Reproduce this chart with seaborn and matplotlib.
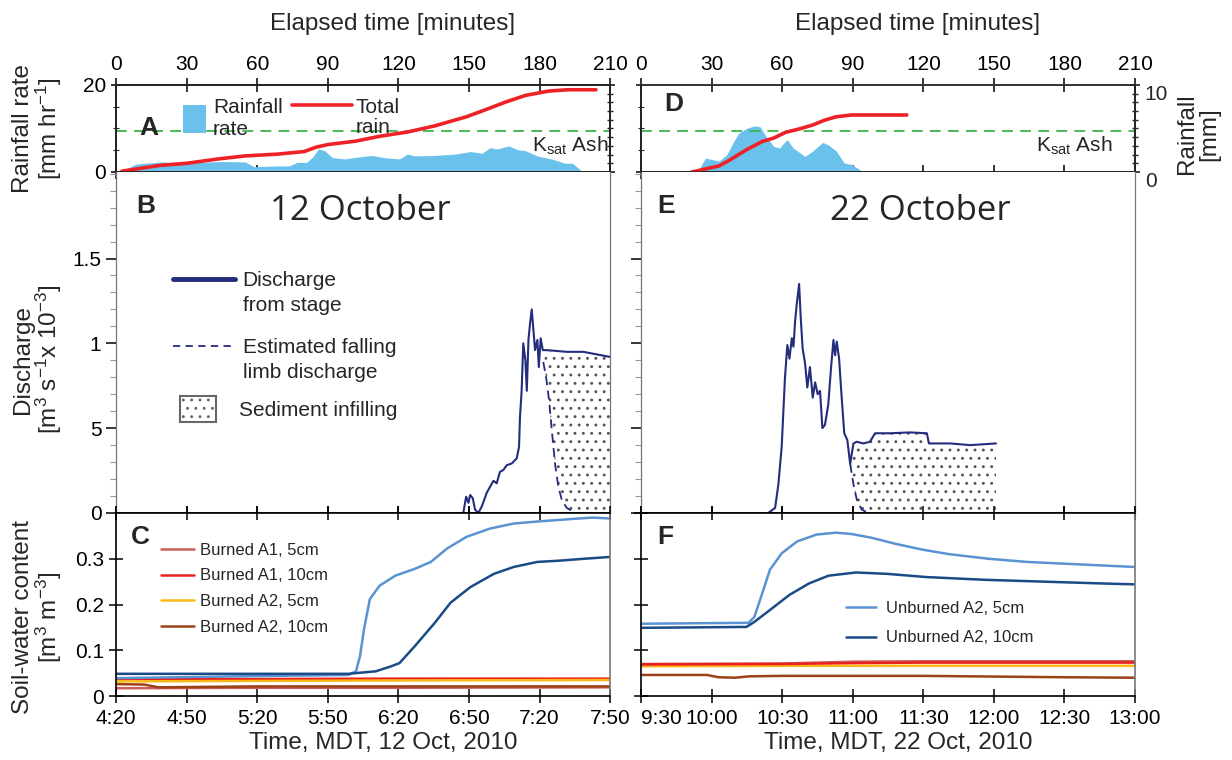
import matplotlib
matplotlib.use("Agg")
import matplotlib.pyplot as plt
from matplotlib.lines import Line2D
from matplotlib.patches import Patch
from matplotlib.ticker import MultipleLocator
import seaborn as sns

# x values are elapsed minutes (0 = 4:20 on 12 Oct, 9:30 on 22 Oct)
elapsed_ticks = [0, 30, 60, 90, 120, 150, 180, 210]
oct12_labels = ['4:20', '4:50', '5:20', '5:50', '6:20', '6:50', '7:20', '7:50']
oct22_labels = ['9:30', '10:00', '10:30', '11:00', '11:30', '12:00', '12:30', '13:00']
ksat_ash = 9.5

# panel A - rainfall rate [mm/hr] and total rain [mm]
rate_a_t = [1.7, 8.4, 11.7, 20, 26.8, 35, 45, 55, 58.6, 68.6, 73.6, 77, 81, 83.7, 86, 88.7, 92, 97,
            103.7, 108.8, 113.8, 120.5, 123.8, 127, 135.5, 144, 150.6, 155.6, 159, 162, 167, 170.7,
            174, 179, 185.7, 190.8, 194, 197.5, 198.5]
rate_a_v = [0, 1.8, 2.0, 2.3, 2.0, 2.2, 2.4, 2.3, 1.2, 1.4, 1.4, 2.2, 2.2, 3.5, 5.3, 4.9, 3.3, 3.0,
            3.5, 3.8, 3.3, 3.0, 4.1, 3.7, 3.8, 4.1, 4.7, 4.3, 5.6, 5.3, 6.0, 5.1,
            4.9, 3.7, 2.9, 2.0, 2.0, 0.4, 0]
total_a_t = [2.5, 10, 18.4, 30, 43.5, 55, 68.6, 80, 85, 90, 102, 112, 124, 135.5, 149, 157, 165.7,
             174, 184, 192, 204]
total_a_mm = [0.1, 0.4, 0.75, 1.0, 1.5, 1.85, 2.05, 2.35, 2.85, 3.15, 3.55, 4.1, 4.6, 5.3, 6.35,
              7.15, 8.05, 8.8, 9.3, 9.45, 9.45]

# panel D
rate_d_t = [24, 27.4, 29.9, 33.2, 36.5, 39, 41.5, 44.8, 48.2, 50.6, 53.1, 56.4, 58.9, 60.6, 62.2,
            64.7, 69.7, 73, 77.2, 79.7, 83, 86.3, 89.6, 94.6]
rate_d_v = [0, 3.2, 2.9, 2.5, 4.0, 6.6, 8.9, 10.0, 10.6, 10.4, 8.2, 5.9, 5.5, 6.6, 7.4,
            5.5, 3.6, 4.8, 6.8, 6.2, 4.8, 2.1, 1.7, 0]
total_d_t = [21.6, 33.2, 38.2, 44.8, 51.5, 56.4, 61.4, 68, 73, 78, 83, 89.6, 113]
total_d_mm = [0, 0.7, 1.45, 2.55, 3.5, 3.9, 4.55, 5.0, 5.4, 5.95, 6.35, 6.55, 6.55]

# panel B - discharge [m3/s x 1e-3]
dis_b_t = [147.6, 148.8, 149.8, 150.5, 151.6, 152.6, 154.0, 155.5, 157.6, 159.0, 160.4, 161.8, 163.2,
           164.6, 166.1, 168.2, 170.3, 171.3, 171.7, 172.4, 173.1, 174.0, 174.6, 175.3, 176.0, 176.7,
           177.4, 178.1, 179.1, 179.7, 180.5, 181.4, 183.1, 191.6, 198.6, 210]
dis_b_q = [0, 0.096, 0.06, 0.106, 0.088, 0.02, 0, 0.04, 0.12, 0.155, 0.19, 0.175, 0.243,
           0.253, 0.282, 0.292, 0.322, 0.39, 0.566, 0.72, 1.0, 0.9, 0.72, 1.02, 1.12, 1.20,
           1.08, 0.96, 1.02, 0.86, 1.03, 0.96, 0.96, 0.95, 0.95, 0.92]
limb_b_t = [181.6, 182.8, 184.1, 185.2, 186.6, 188.0, 189.5, 191.6, 195.1]
limb_b_q = [0.89, 0.80, 0.66, 0.49, 0.29, 0.155, 0.076, 0.03, 0]

# panel E
dis_e_t = [54.1, 57.0, 58.4, 59.8, 61.2, 62.2, 63.1, 64.1, 64.8, 65.5, 66.2, 67.2, 67.9, 68.7, 69.7,
           70.7, 71.8, 73.0, 74.0, 75.1, 76.1, 77.1, 78.2, 79.6, 80.8, 81.8, 82.5, 83.2, 84.2, 85.3,
           86.4, 87.7, 88.9, 90.3, 91.7, 94.5, 97.3, 99.5, 105.8, 114.3, 121.5, 122.4, 131.4, 139.9,
           150.9]
dis_e_q = [0, 0.03, 0.17, 0.39, 0.80, 0.99, 0.91, 1.03, 0.98, 1.13, 1.23, 1.35, 1.15, 0.97, 0.885,
           0.74, 0.86, 0.68, 0.77, 0.70, 0.72, 0.50, 0.52, 0.64, 0.86, 1.02, 0.93, 1.01, 0.91, 0.68,
           0.47, 0.43, 0.29, 0.41, 0.42, 0.41, 0.42, 0.47, 0.47, 0.475, 0.47, 0.41, 0.41, 0.40,
           0.41]
limb_e_t = [88.9, 90.3, 91.7, 93.8, 96.6]
limb_e_q = [0.29, 0.17, 0.08, 0.02, 0]

# panel C - soil-water content, 12 Oct
unb5_c_t = [0, 51.9, 98.7, 102, 103.7, 105.4, 107.9, 112, 118.7, 127, 133.8, 140.6, 149, 159, 169,
            180.7, 194, 202.5, 210]
unb5_c_v = [0.039, 0.043, 0.046, 0.054, 0.087, 0.146, 0.212, 0.241, 0.263, 0.278, 0.293, 0.322,
            0.348, 0.366, 0.377, 0.382, 0.387, 0.390, 0.388]
unb10_c_t = [0, 98.7, 110.4, 117, 120.5, 127, 135.5, 142.2, 150.6, 160.6, 169, 179, 189, 199, 210]
unb10_c_v = [0.0485, 0.0485, 0.054, 0.065, 0.072, 0.109, 0.160, 0.204, 0.238, 0.267, 0.282, 0.293,
             0.296, 0.300, 0.304]
ba1_5_c_t = [0, 60, 120, 210]
ba1_5_c_v = [0.017, 0.018, 0.018, 0.019]
ba1_10_c_t = [0, 60, 120, 210]
ba1_10_c_v = [0.037, 0.037, 0.038, 0.038]
ba2_5_c_t = [0, 60, 120, 210]
ba2_5_c_v = [0.032, 0.033, 0.034, 0.035]
ba2_10_c_t = [0, 12, 18, 60, 120, 210]
ba2_10_c_v = [0.026, 0.025, 0.019, 0.021, 0.021, 0.021]

# panel F - soil-water content, 22 Oct
unb5_f_t = [0, 45.7, 48.2, 51.5, 54.8, 59.8, 66.4, 74.7, 83, 89.6, 97.9, 107.9, 119.5, 131.1, 147.7,
            164.3, 180.9, 197.5, 210]
unb5_f_v = [0.158, 0.160, 0.173, 0.224, 0.276, 0.312, 0.338, 0.353, 0.357, 0.354, 0.346, 0.333,
            0.320, 0.310, 0.300, 0.293, 0.289, 0.285, 0.282]
unb10_f_t = [0, 44.8, 48.2, 54.8, 63.1, 71.4, 79.7, 91.3, 104.6, 121.2, 146.1, 171, 195.9, 210]
unb10_f_v = [0.149, 0.151, 0.162, 0.188, 0.221, 0.246, 0.263, 0.270, 0.267, 0.260, 0.254, 0.250,
             0.246, 0.244]
ba1_5_f_t = [0, 60, 90, 120, 210]
ba1_5_f_v = [0.070, 0.071, 0.075, 0.076, 0.076]
ba1_10_f_t = [0, 60, 90, 120, 210]
ba1_10_f_v = [0.069, 0.070, 0.072, 0.073, 0.073]
ba2_5_f_t = [0, 60, 120, 210]
ba2_5_f_v = [0.065, 0.066, 0.066, 0.066]
ba2_10_f_t = [0, 28, 33, 40, 46, 60, 120, 180, 210]
ba2_10_f_v = [0.046, 0.046, 0.041, 0.040, 0.043, 0.044, 0.044, 0.041, 0.040]

RAIN = '#6ac2ec'
RED = '#ee2226'
GREEN = '#3db54a'
NAVY = '#242c7c'
DOTS = '#555555'
UNB5 = '#5a93d2'
UNB10 = '#1b4b87'
BA1_5 = '#cc5e5a'
BA1_10 = '#e8201f'
BA2_5 = '#fbb918'
BA2_10 = '#9c4116'

sns.set_theme(style="ticks")
plt.rcParams['font.family'] = ['Liberation Sans', 'DejaVu Sans']
plt.rcParams['mathtext.fontset'] = 'custom'
plt.rcParams['mathtext.rm'] = 'Liberation Sans'
plt.rcParams['mathtext.it'] = 'Liberation Sans:italic'
plt.rcParams['mathtext.default'] = 'regular'
plt.rcParams['hatch.color'] = DOTS
plt.rcParams['hatch.linewidth'] = 0.9
plt.rcParams['axes.linewidth'] = 1.2

YT = 15      # y tick labels
XT = 15      # x tick labels
XL = 17.5    # x axis labels
YL = 17.5    # y axis labels
LG = 15      # legend text A/B
fig = plt.figure(figsize=(12.32, 7.6), dpi=100)

cols = [0.0942, 0.5203]
W = 0.401
rows = {'top': (0.7737, 0.1145), 'mid': (0.325, 0.4487), 'bot': (0.0842, 0.2408)}
BLANK = Line2D([], [], alpha=0)


def base(ax):
    ax.set_xlim(0, 210)
    ax.set_xticks(elapsed_ticks)
    for sp in ax.spines.values():
        sp.set_color('black')
    ax.tick_params(colors='black', length=7, width=1.1)
    ax.tick_params(axis='x', labelsize=XT)
    ax.tick_params(axis='y', labelsize=YT)
    ax.tick_params(which='minor', length=4, width=0.8)


def letter(ax, s, x, y):
    ax.text(x, y, s, transform=ax.transAxes, fontsize=19, fontweight='bold',
            ha='center', va='center')


# ---------- rainfall panels ----------
for i, (rt, rv, tt, tv, lab) in enumerate([(rate_a_t, rate_a_v, total_a_t, total_a_mm, 'A'),
                                          (rate_d_t, rate_d_v, total_d_t, total_d_mm, 'D')]):
    ax = fig.add_axes([cols[i], rows['top'][0], W, rows['top'][1]])
    base(ax)
    ax.fill_between(rt, rv, color=RAIN, lw=0)
    ax.axhline(ksat_ash, color=GREEN, ls=(0, (6, 4)), lw=1.3)
    ax.set_ylim(0, 20)
    ax.tick_params(axis='x', top=True, labeltop=True, bottom=True, labelbottom=False,
                   direction='inout', length=10, pad=3)
    ax.set_xlabel('Elapsed time [minutes]', fontsize=XL)
    ax.xaxis.set_label_position('top')
    ax.xaxis.set_label_coords(0.56, 1.7)
    ax.xaxis.label.set_va('center')
    ax.yaxis.set_minor_locator(MultipleLocator(5))
    ax.tick_params(axis='y', which='both', direction='inout')
    ax.set_yticks([0, 20])
    if i == 0:
        ax.set_ylabel('Rainfall rate\n[mm hr$^{-1}$]', fontsize=YL, linespacing=1.0)
        ax.yaxis.set_label_coords(-0.105, 0.5)
    else:
        ax.tick_params(axis='y', labelleft=False)
        ax.spines['top'].set_color('#777777')
    tw = ax.twinx()
    sns.lineplot(x=tt, y=tv, ax=tw, color=RED, lw=2.6, estimator=None, sort=False)
    tw.set_ylim(0, 10)
    tw.set_yticks([0, 10])
    tw.yaxis.set_minor_locator(MultipleLocator(1))
    tw.tick_params(axis='y', which='both', direction='inout', labelsize=YT, length=7)
    tw.tick_params(axis='y', which='minor', length=5)
    if i == 0:
        tw.tick_params(axis='y', labelright=False)
    else:
        for t in tw.get_yticklabels():
            t.set_va('top')
        tw.set_ylabel('Rainfall\n[mm]', fontsize=YL, linespacing=1.0)
        tw.yaxis.set_label_coords(1.083, 0.44)
    kx = 193 if i == 0 else 184
    ax.text(kx, 6.0, 'K$_{sat}$ Ash', fontsize=LG, ha='center', va='center')
    letter(ax, lab, 0.067, 0.5 if i == 0 else 0.78)
    if i == 0:
        leg1 = ax.legend([Patch(facecolor=RAIN, edgecolor='none')], ['Rainfall\nrate'],
                         frameon=False, loc='upper left', bbox_to_anchor=(0.097, 1.07),
                         fontsize=LG, handlelength=1.1, handleheight=1.7,
                         handletextpad=0.35, labelspacing=0.0)
        ax.add_artist(leg1)
        ax.legend([Line2D([], [], color=RED, lw=2.6), BLANK], ['Total', 'rain'],
                  frameon=False, loc='upper left', bbox_to_anchor=(0.318, 1.07),
                  fontsize=LG, handlelength=2.9, handletextpad=0.15, labelspacing=0.05)

# ---------- discharge panels ----------
sets = [(dis_b_t, dis_b_q, limb_b_t, limb_b_q, 'B', '12 October'),
        (dis_e_t, dis_e_q, limb_e_t, limb_e_q, 'E', '22 October')]
for i, (dt, dq, lt, lq, lab, title) in enumerate(sets):
    ax = fig.add_axes([cols[i], rows['mid'][0], W, rows['mid'][1]])
    base(ax)
    ax.set_ylim(0, 2.01)
    start = lt[0]
    up_t = [t for t in dt if t >= start]
    up_q = [q for t, q in zip(dt, dq) if t >= start]
    poly_t = [start] + up_t + [up_t[-1]] + lt[::-1]
    poly_q = [lq[0]] + up_q + [0] + lq[::-1]
    ax.fill(poly_t, poly_q, facecolor='white', edgecolor=DOTS, hatch='..', lw=0)
    sns.lineplot(x=lt, y=lq, ax=ax, color=NAVY, lw=1.3, ls=(0, (5, 3)), estimator=None, sort=False)
    sns.lineplot(x=dt, y=dq, ax=ax, color=NAVY, lw=1.5, estimator=None, sort=False)
    ax.set_yticks([0, 0.5, 1, 1.5])
    ax.yaxis.set_minor_locator(MultipleLocator(0.1))
    ax.tick_params(axis='x', labelbottom=False, direction='inout', length=10)
    ax.tick_params(axis='y', which='both', direction='out')
    ax.tick_params(axis='y', which='minor', color='#999999')
    for s in ['left', 'right', 'top']:
        ax.spines[s].set_color('#777777')
        ax.spines[s].set_linewidth(0.9)
    ax.spines['top'].set_visible(False)
    if i == 0:
        ax.set_yticklabels(['0', '5', '1', '1.5'])
        ax.set_ylabel('Discharge\n[m$^3$ s$^{-1}$x 10$^{-3}$]', fontsize=YL, linespacing=1.0)
        ax.yaxis.set_label_coords(-0.105, 0.45)
        kw = dict(frameon=False, loc='upper left', fontsize=LG, handletextpad=0.35,
                  labelspacing=0.3)
        leg1 = ax.legend([Line2D([], [], color=NAVY, lw=3.5), BLANK],
                         ['Discharge', 'from stage'], bbox_to_anchor=(0.077, 0.765),
                         handlelength=3.0, **kw)
        ax.add_artist(leg1)
        leg2 = ax.legend([Line2D([], [], color=NAVY, lw=1.3, ls=(0, (4, 3))), BLANK],
                         ['Estimated falling', 'limb discharge'], bbox_to_anchor=(0.077, 0.568),
                         handlelength=3.0, **kw)
        ax.add_artist(leg2)
        ax.legend([Patch(facecolor='white', edgecolor='#666666', hatch='..', lw=1.5)],
                  ['Sediment infilling'], frameon=False, loc='upper left',
                  bbox_to_anchor=(0.092, 0.397), fontsize=LG, handlelength=1.7,
                  handleheight=1.5, handletextpad=1.1)
    else:
        ax.tick_params(axis='y', labelleft=False)
    letter(ax, lab, 0.06 if i == 0 else 0.05, 0.9)
    ax.text(0.494 if i == 0 else 0.565, 0.885, title, transform=ax.transAxes, fontsize=25,
            ha='center', va='center', family=['Open Sans', 'Liberation Sans'])

# ---------- soil-water panels ----------
soil_c = [(ba1_5_c_t, ba1_5_c_v, BA1_5, 'Burned A1, 5cm'),
          (ba1_10_c_t, ba1_10_c_v, BA1_10, 'Burned A1, 10cm'),
          (ba2_5_c_t, ba2_5_c_v, BA2_5, 'Burned A2, 5cm'),
          (ba2_10_c_t, ba2_10_c_v, BA2_10, 'Burned A2, 10cm'),
          (unb5_c_t, unb5_c_v, UNB5, 'Unburned A2, 5cm'),
          (unb10_c_t, unb10_c_v, UNB10, 'Unburned A2, 10cm')]
soil_f = [(ba2_10_f_t, ba2_10_f_v, BA2_10, 'Burned A2, 10cm'),
          (ba2_5_f_t, ba2_5_f_v, BA2_5, 'Burned A2, 5cm'),
          (ba1_5_f_t, ba1_5_f_v, BA1_5, 'Burned A1, 5cm'),
          (ba1_10_f_t, ba1_10_f_v, BA1_10, 'Burned A1, 10cm'),
          (unb5_f_t, unb5_f_v, UNB5, 'Unburned A2, 5cm'),
          (unb10_f_t, unb10_f_v, UNB10, 'Unburned A2, 10cm')]
for i, (series, lab, tlabels, xlabel, xlx) in enumerate([
        (soil_c, 'C', oct12_labels, 'Time, MDT, 12 Oct, 2010', 0.54),
        (soil_f, 'F', oct22_labels, 'Time, MDT, 22 Oct, 2010', 0.52)]):
    ax = fig.add_axes([cols[i], rows['bot'][0], W, rows['bot'][1]])
    base(ax)
    for t, v, c, name in series:
        sns.lineplot(x=t, y=v, ax=ax, color=c, lw=1.8, estimator=None, sort=False, label=name)
    ax.set_ylim(0, 0.4)
    ax.set_xticklabels(tlabels)
    if i == 1:
        # first label sits right of its tick, as in the original, to clear "7:50"
        ax.get_xticklabels()[0].set_ha('left')
    ax.tick_params(axis='x', top=True, direction='inout', length=10, pad=4)
    ax.tick_params(axis='y', direction='inout', length=10)
    ax.set_xlabel(xlabel, fontsize=XL)
    ax.xaxis.set_label_coords(xlx, -0.255)
    ax.xaxis.label.set_va('center')
    ax.spines['right'].set_color('#777777')
    hs, ls_ = ax.get_legend_handles_labels()
    if i == 0:
        ax.set_yticks([0, 0.1, 0.2, 0.3])
        ax.set_yticklabels(['0', '0.1', '0.2', '0.3'])
        ax.set_ylabel('Soil-water content\n[m$^3$ m$^{-3}$]', fontsize=YL, linespacing=1.0)
        ax.yaxis.set_label_coords(-0.105, 0.43)
        keep = [0, 1, 2, 3]
        ax.legend([hs[k] for k in keep], [ls_[k] for k in keep], frameon=False,
                  loc='upper left', bbox_to_anchor=(0.06, 0.92), handlelength=2.0,
                  handletextpad=0.35, fontsize=12, labelspacing=0.65)
    else:
        ax.set_yticks([0, 0.1, 0.2, 0.3, 0.4])
        ax.tick_params(axis='y', labelleft=False)
        keep = [4, 5]
        ax.legend([hs[k] for k in keep], [ls_[k] for k in keep], frameon=False,
                  loc='upper left', bbox_to_anchor=(0.385, 0.6), handlelength=1.8,
                  handletextpad=0.6, fontsize=12, labelspacing=0.85)
    letter(ax, lab, 0.05, 0.87)

fig.savefig('out.png', dpi=100)
